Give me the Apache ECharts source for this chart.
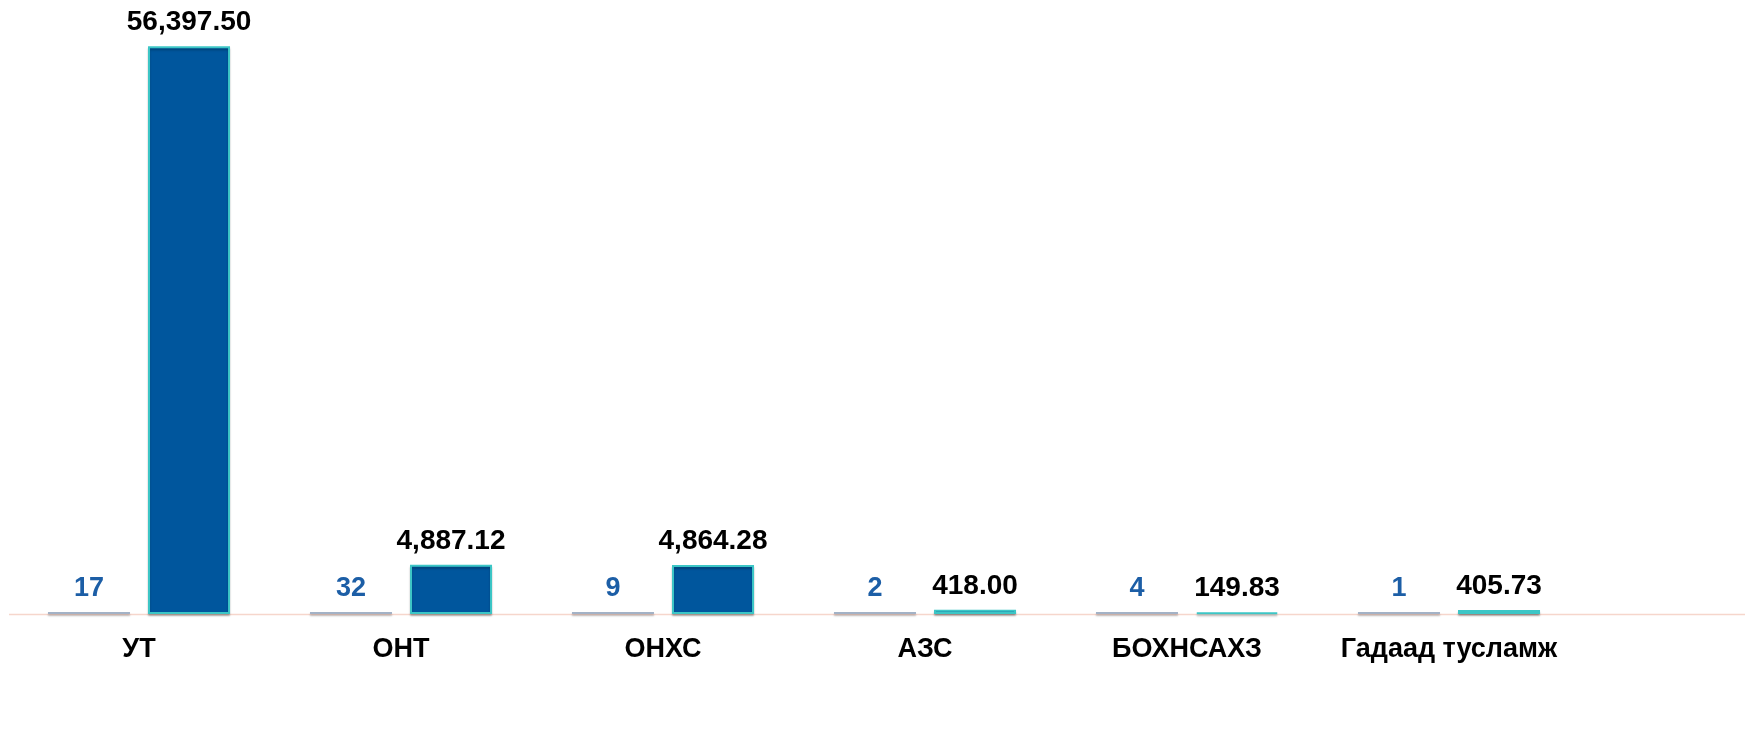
<!DOCTYPE html>
<html>
<head>
<meta charset="utf-8">
<script src="https://cdn.jsdelivr.net/npm/echarts@6/dist/echarts.min.js"></script>
<style>
html,body{margin:0;padding:0;background:#fff;}
#chart{width:1745px;height:740px;}
</style>
</head>
<body>
<div id="chart"></div>
<script>
const categories = ['УТ', 'ОНТ', 'ОНХС', 'АЗС', 'БОХНСАХЗ', 'Гадаад тусламж'];
const countValues = [17, 32, 9, 2, 4, 1];
const amountValues = [56397.50, 4887.12, 4864.28, 418.00, 149.83, 405.73];

function fmt(v) {
  const parts = v.toFixed(2).split('.');
  parts[0] = parts[0].replace(/\B(?=(\d{3})+(?!\d))/g, ',');
  return parts.join('.');
}

const chart = echarts.init(document.getElementById('chart'));
const gridBottom = 126;
chart.setOption({
  animation: false,
  backgroundColor: '#ffffff',
  grid: { left: 8, width: 1572, top: 10, bottom: gridBottom },
  xAxis: {
    type: 'category',
    data: categories,
    axisLine: { show: false },
    axisTick: { show: false },
    axisLabel: {
      interval: 0,
      color: '#000', fontWeight: 'bold', fontSize: 27,
      fontFamily: 'Liberation Sans, Arial, sans-serif', margin: 22
    }
  },
  yAxis: {
    type: 'value', min: 0, max: 60000, show: false,
    splitLine: { show: false }
  },
  graphic: [{
    type: 'line',
    shape: { x1: 9, y1: 740 - gridBottom + 0.5, x2: 1745, y2: 740 - gridBottom + 0.5 },
    style: { stroke: '#f6d6cc', lineWidth: 1.5 },
    z: 0
  }],
  series: [
    {
      type: 'bar',
      data: countValues,
      barWidth: 82,
      barGap: '22%',
      barMinHeight: 2,
      itemStyle: {
        color: '#a3b2c6',
        shadowColor: 'rgba(0,0,0,0.25)', shadowBlur: 2, shadowOffsetY: 2
      },
      label: {
        show: true, position: 'top', distance: 10,
        color: '#1c5ea6', fontWeight: 'bold', fontSize: 27,
        fontFamily: 'Liberation Sans, Arial, sans-serif'
      },
      z: 3
    },
    {
      type: 'bar',
      data: amountValues,
      barWidth: 82,
      itemStyle: {
        color: '#00569d',
        borderColor: '#3cc6c6', borderWidth: 2,
        shadowColor: 'rgba(0,0,0,0.25)', shadowBlur: 2, shadowOffsetY: 2
      },
      label: {
        show: true, position: 'top', distance: 10,
        color: '#000', fontWeight: 'bold', fontSize: 28,
        fontFamily: 'Liberation Sans, Arial, sans-serif',
        formatter: p => fmt(p.value)
      },
      z: 3
    }
  ]
});
</script>
</body>
</html>
